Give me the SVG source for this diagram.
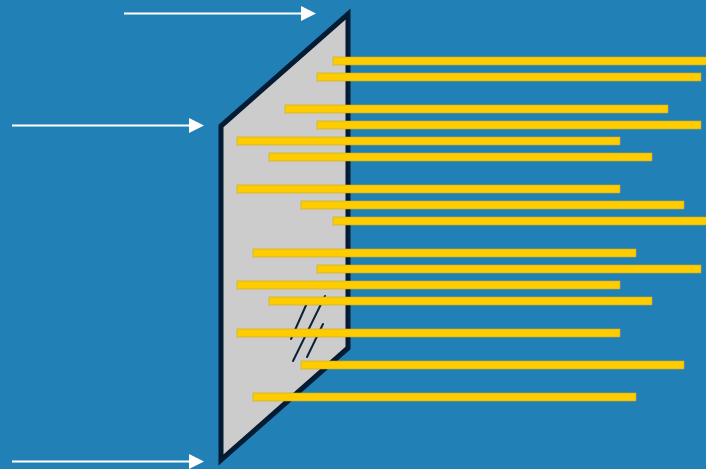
<svg xmlns="http://www.w3.org/2000/svg" width="706" height="469" viewBox="0 0 706 469">
  <defs>
    <style>
      .bg { fill: #2180b5; }
      .panel { fill: #cccccc; stroke: #031b33; stroke-width: 5; stroke-linejoin: miter; }
      .hatch { stroke: #0d2238; stroke-width: 2; stroke-linecap: round; fill: none; }
      .bar { fill: #ffcc00; stroke: #c9a820; stroke-width: 0.6; }
      .arrow { stroke: #ffffff; stroke-width: 2; fill: none; }
      .head { fill: #ffffff; }
    </style>
  </defs>
  <rect class="bg" x="0" y="0" width="706" height="469"/>

  <g id="connectors">
    <line class="arrow" x1="124" y1="13.5" x2="302" y2="13.5"/>
    <polygon class="head" points="301,6 316,13.5 301,21"/>
    <line class="arrow" x1="12" y1="125.5" x2="190" y2="125.5"/>
    <polygon class="head" points="189,118 204,125.5 189,133"/>
    <line class="arrow" x1="12" y1="461.5" x2="190" y2="461.5"/>
    <polygon class="head" points="189,454 204,461.5 189,469"/>
  </g>

  <g id="panel">
    <polygon class="panel" points="221,126 348,14 348,348 221,460"/>
    <line class="hatch" x1="325" y1="296" x2="293" y2="361"/>
    <line class="hatch" x1="307" y1="303" x2="291" y2="339"/>
    <line class="hatch" x1="323" y1="324" x2="307" y2="357"/>
  </g>

  <g id="bars">
    <rect class="bar" x="333" y="57" width="374" height="8"/>
    <rect class="bar" x="317" y="73" width="384" height="8"/>
    <rect class="bar" x="285" y="105" width="383" height="8"/>
    <rect class="bar" x="317" y="121" width="384" height="8"/>
    <rect class="bar" x="237" y="137" width="383" height="8"/>
    <rect class="bar" x="269" y="153" width="383" height="8"/>
    <rect class="bar" x="237" y="185" width="383" height="8"/>
    <rect class="bar" x="301" y="201" width="383" height="8"/>
    <rect class="bar" x="333" y="217" width="374" height="8"/>
    <rect class="bar" x="253" y="249" width="383" height="8"/>
    <rect class="bar" x="317" y="265" width="384" height="8"/>
    <rect class="bar" x="237" y="281" width="383" height="8"/>
    <rect class="bar" x="269" y="297" width="383" height="8"/>
    <rect class="bar" x="237" y="329" width="383" height="8"/>
    <rect class="bar" x="301" y="361" width="383" height="8"/>
    <rect class="bar" x="253" y="393" width="383" height="8"/>
  </g>
</svg>
